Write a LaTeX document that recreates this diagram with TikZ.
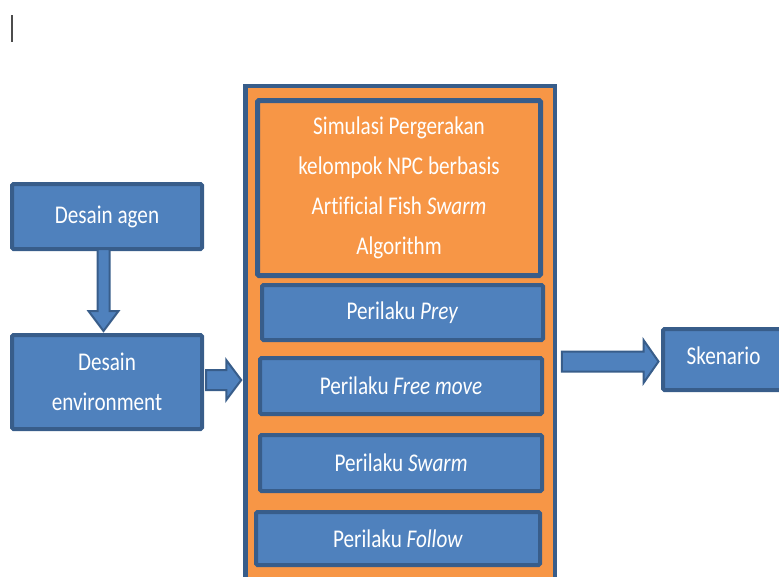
\documentclass[tikz,border=0pt]{standalone}
\usepackage{fontspec}
\setmainfont{Carlito}[FakeStretch=0.83, Ligatures=NoCommon]
\usetikzlibrary{calc}
\definecolor{boxblue}{HTML}{4F81BD}
\definecolor{edgeblue}{HTML}{385D8A}
\definecolor{boxorange}{HTML}{F79646}
\begin{document}
\begin{tikzpicture}[x=1pt,y=-1pt,
  box/.style={draw=edgeblue, fill=boxblue, line width=4pt, text=white,
    font=\fontsize{25.5}{40}\selectfont, inner sep=0pt, outer sep=0pt,
    rounded corners=1.5pt, align=center},
  frame/.style={draw=edgeblue, fill=boxorange, line width=4.5pt,
    inner sep=0pt, outer sep=0pt},
  barrow/.style={draw=edgeblue, fill=boxblue, line width=2pt, line join=miter}]
\useasboundingbox (0,0) rectangle (779,576);
\clip (0,0) rectangle (779,576);

% text cursor mark
\draw[line width=1.8pt, draw=black!70] (11.8,15) -- (11.8,42);

% left column
\node[box, minimum width=190pt, minimum height=65pt] (agen) at (107,216.5) {Desain agen};
\node[box, minimum width=190pt, minimum height=94pt] (env) at (107,382) {Desain\\environment};

% central simulation block
\node[frame, minimum width=309.5pt, minimum height=513.75pt] (outer) at (400,343.1) {};
\node[box, fill=boxorange, line width=5pt, minimum width=283pt, minimum height=175pt] (title) at (399,188)
  {Simulasi Pergerakan\\kelompok NPC berbasis\\Artificial Fish \textit{Swarm}\\Algorithm};
\node[box, minimum width=281pt, minimum height=55pt] (prey) at (402.5,312.5) {Perilaku \textit{Prey}};
\node[box, minimum width=282pt, minimum height=56pt] (free) at (401,386) {Perilaku \textit{Free move}};
\node[box, minimum width=282pt, minimum height=56pt] (swarm) at (401,463) {Perilaku \textit{Swarm}};
\node[box, minimum width=284pt, minimum height=53pt] (follow) at (398,538.5) {Perilaku \textit{Follow}};

% output
\node[box, minimum width=121pt, minimum height=61pt, text depth=8pt] (sken) at (723.5,359.5) {Skenario};

% block arrow: agen -> env
\coordinate (d1) at ([xshift=-3.5]agen.south);
\coordinate (d2) at ([xshift=-3.5,yshift=4]env.north);
\draw[barrow] ($(d1)+(-6,0)$) -- ($(d2)+(-6,-20)$) -- ($(d2)+(-15,-20)$) -- (d2)
  -- ($(d2)+(15,-20)$) -- ($(d2)+(6,-20)$) -- ($(d1)+(6,0)$) -- cycle;

% block arrow: env -> simulation block
\coordinate (a1s) at ([xshift=4,yshift=2]env.east);
\coordinate (a1e) at ([xshift=-4]outer.west |- a1s);
\draw[barrow] ($(a1s)+(0,-10)$) -- ($(a1e)+(-15,-10)$) -- ($(a1e)+(-15,-20)$) -- (a1e)
  -- ($(a1e)+(-15,20)$) -- ($(a1e)+(-15,10)$) -- ($(a1s)+(0,10)$) -- cycle;

% block arrow: simulation block -> skenario
\coordinate (a2e) at ([xshift=-4.5,yshift=-2]sken.west);
\coordinate (a2s) at ([xshift=7]outer.east |- a2e);
\draw[barrow] ($(a2s)+(0,-10)$) -- ($(a2e)+(-15,-10)$) -- ($(a2e)+(-15,-21.5)$) -- (a2e)
  -- ($(a2e)+(-15,21.5)$) -- ($(a2e)+(-15,10)$) -- ($(a2s)+(0,10)$) -- cycle;
\end{tikzpicture}
\end{document}
